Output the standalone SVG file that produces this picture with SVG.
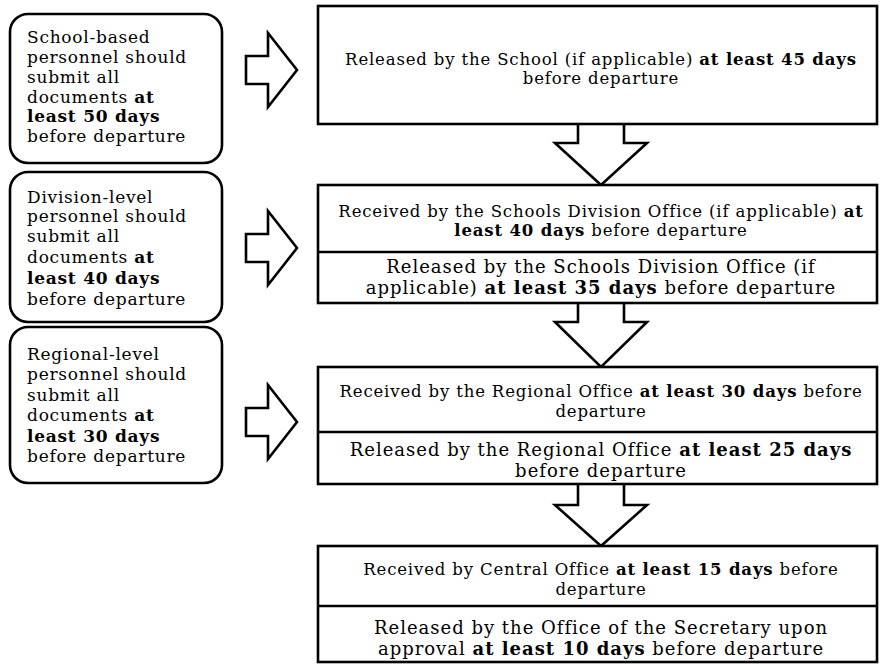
<svg xmlns="http://www.w3.org/2000/svg" width="880" height="664" viewBox="0 0 880 664">
<style>
  .box { fill: #fff; stroke: #000; stroke-width: 2.6; }
  .div { stroke: #000; stroke-width: 2.4; fill: none; }
  .arr { fill: #fff; stroke: #000; stroke-width: 2.6; stroke-linejoin: miter; }
  text { font-family: "DejaVu Serif", serif; fill: #000; }
  .l { font-size: 17px; letter-spacing: 0.75px; }
  .rc { font-size: 16.5px; letter-spacing: 0.85px; text-anchor: middle; }
  .rr { font-size: 18px; letter-spacing: 1px; text-anchor: middle; }
  .b { font-weight: bold; }
</style>
<rect width="880" height="664" fill="#fff"/>

<g id="connectors">
  <polygon class="arr" points="246,56 268,56 268,33 297,70 268,107 268,84 246,84"/>
  <polygon class="arr" points="246,234 268,234 268,211 297,248 268,285 268,262 246,262"/>
  <polygon class="arr" points="246,408 268,408 268,385 297,422 268,459 268,436 246,436"/>
  <polyline class="arr" points="578,124 578,143 555,143 601,185 647,143 624,143 624,124"/>
  <polyline class="arr" points="578,303 578,322 555,322 601,367 647,322 624,322 624,303"/>
  <polyline class="arr" points="578,484 578,505 555,505 601,546 647,505 624,505 624,484"/>
</g>

<g id="left-school">
  <rect class="box" x="10" y="14" width="212" height="149" rx="18"/>
  <text class="l" x="27" y="43">School-based</text>
  <text class="l" x="27" y="63">personnel should</text>
  <text class="l" x="27" y="83">submit all</text>
  <text class="l" x="27" y="103">documents <tspan class="b">at</tspan></text>
  <text class="l b" x="27" y="122">least 50 days</text>
  <text class="l" x="27" y="142">before departure</text>
</g>

<g id="left-division">
  <rect class="box" x="10" y="172" width="212" height="150" rx="18"/>
  <text class="l" x="27" y="203">Division-level</text>
  <text class="l" x="27" y="222">personnel should</text>
  <text class="l" x="27" y="242">submit all</text>
  <text class="l" x="27" y="263">documents <tspan class="b">at</tspan></text>
  <text class="l b" x="27" y="284">least 40 days</text>
  <text class="l" x="27" y="305">before departure</text>
</g>

<g id="left-regional">
  <rect class="box" x="10" y="327" width="212" height="156" rx="18"/>
  <text class="l" x="27" y="360">Regional-level</text>
  <text class="l" x="27" y="380">personnel should</text>
  <text class="l" x="27" y="401">submit all</text>
  <text class="l" x="27" y="421">documents <tspan class="b">at</tspan></text>
  <text class="l b" x="27" y="442">least 30 days</text>
  <text class="l" x="27" y="462">before departure</text>
</g>

<g id="school-release">
  <rect class="box" x="318" y="6" width="559" height="118"/>
  <text class="rc" x="601" y="65">Released by the School (if applicable) <tspan class="b">at least 45 days</tspan></text>
  <text class="rc" x="601" y="84">before departure</text>
</g>

<g id="division-office">
  <rect class="box" x="318" y="185" width="559" height="118"/>
  <line class="div" x1="318" y1="252" x2="877" y2="252"/>
  <text class="rc" x="601" y="217">Received by the Schools Division Office (if applicable) <tspan class="b">at</tspan></text>
  <text class="rc" x="601" y="236"><tspan class="b">least 40 days</tspan> before departure</text>
  <text class="rr" x="601" y="273">Released by the Schools Division Office (if</text>
  <text class="rr" x="601" y="294">applicable) <tspan class="b">at least 35 days</tspan> before departure</text>
</g>

<g id="regional-office">
  <rect class="box" x="318" y="367" width="559" height="117"/>
  <line class="div" x1="318" y1="432" x2="877" y2="432"/>
  <text class="rc" x="601" y="397">Received by the Regional Office <tspan class="b">at least 30 days</tspan> before</text>
  <text class="rc" x="601" y="417">departure</text>
  <text class="rr" x="601" y="456">Released by the Regional Office <tspan class="b">at least 25 days</tspan></text>
  <text class="rr" x="601" y="477">before departure</text>
</g>

<g id="central-office">
  <rect class="box" x="318" y="546" width="559" height="116"/>
  <line class="div" x1="318" y1="606" x2="877" y2="606"/>
  <text class="rc" x="601" y="575">Received by Central Office <tspan class="b">at least 15 days</tspan> before</text>
  <text class="rc" x="601" y="595">departure</text>
  <text class="rr" x="601" y="634">Released by the Office of the Secretary upon</text>
  <text class="rr" x="601" y="655">approval <tspan class="b">at least 10 days</tspan> before departure</text>
</g>
</svg>
